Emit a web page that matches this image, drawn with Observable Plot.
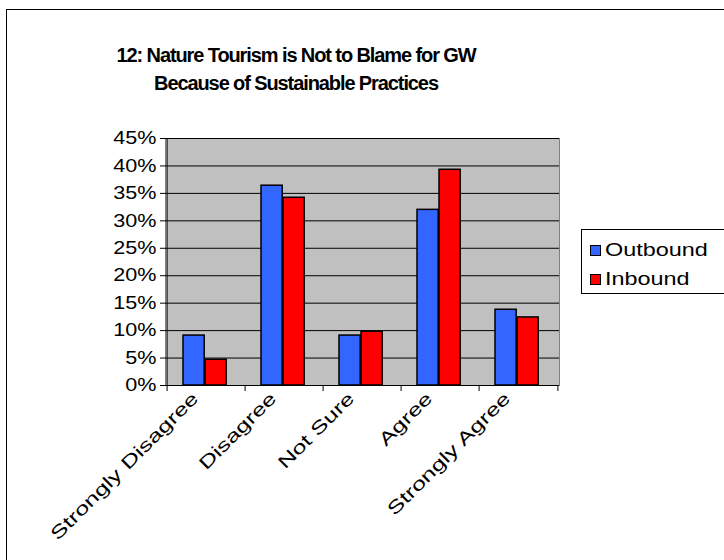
<!DOCTYPE html>
<html>
<head>
<meta charset="utf-8">
<script src="https://cdn.jsdelivr.net/npm/d3@7"></script>
<script src="https://cdn.jsdelivr.net/npm/@observablehq/plot@0.6"></script>
<style>
  html, body { margin: 0; padding: 0; background: #fff; }
  #chart { position: relative; width: 724px; height: 560px; overflow: hidden;
           font-family: Arial, "Liberation Sans", sans-serif; color: #000; }
  #chart svg { position: absolute; left: 0; top: 0; }
  #border { position: absolute; left: 6px; top: 9px; width: 900px; height: 900px;
            border-left: 1.5px solid #000; border-top: 1.5px solid #000; }
  #title { position: absolute; left: 0; top: 41px; width: 592px; text-align: center;
           font-weight: bold; font-size: 20px; line-height: 28px; letter-spacing: -1.1px; }
  #legend { position: absolute; left: 581px; top: 229px; width: 200px; height: 63px;
            border: 1px solid #000; background: #fff; }
  .item { position: absolute; left: 8px; height: 22px; display: flex; align-items: center; }
  .swatch { width: 9px; height: 9px; border: 1px solid #000; margin-right: 4px; }
  .label { display: inline-block; font-size: 18px; transform: scaleX(1.3); transform-origin: left center; }
</style>
</head>
<body>
<div id="chart">
  <div id="border"></div>
  <div id="title">12: Nature Tourism is Not to Blame for GW<br>Because of Sustainable Practices</div>
  <div id="legend"></div>
</div>
<script>
// Survey answers, share of respondents (%)
const categories = ["Strongly Disagree", "Disagree", "Not Sure", "Agree", "Strongly Agree"];
const outbound = [9.1, 36.4, 9.1, 32.0, 13.8];
const inbound = [4.7, 34.2, 9.8, 39.3, 12.4];
const seriesNames = ["Outbound", "Inbound"];
const seriesColors = ["#3366FF", "#FF0000"];
const yTicks = [0, 5, 10, 15, 20, 25, 30, 35, 40, 45];

const rows = categories.flatMap((c, i) => [
  {category: c, series: seriesNames[0], value: outbound[i]},
  {category: c, series: seriesNames[1], value: inbound[i]}
]);

const W = 724, H = 560;
const margin = {left: 165, right: 165, top: 138, bottom: 175};
const band = (W - margin.left - margin.right) / categories.length;
const gapLeft = 16, barW = 22;   // bar layout inside each category band

const plot = Plot.plot({
  width: W,
  height: H,
  marginLeft: margin.left,
  marginRight: margin.right,
  marginTop: margin.top,
  marginBottom: margin.bottom,
  style: {background: "transparent", fontFamily: "Arial, 'Liberation Sans', sans-serif", color: "#000"},
  x: {domain: categories, padding: 0, axis: null},
  y: {domain: [0, 45], axis: null},
  color: {domain: seriesNames, range: seriesColors},
  marks: [
    Plot.frame({fill: "#C0C0C0", stroke: "#808080"}),
    Plot.gridY(yTicks, {stroke: "#000", strokeOpacity: 1}),
    Plot.barY(rows.filter(d => d.series === seriesNames[0]), {
      x: "category", y: "value", fill: "series", stroke: "#000", strokeWidth: 1.5,
      insetLeft: gapLeft, insetRight: band - gapLeft - barW
    }),
    Plot.barY(rows.filter(d => d.series === seriesNames[1]), {
      x: "category", y: "value", fill: "series", stroke: "#000", strokeWidth: 1.5,
      insetLeft: gapLeft + barW, insetRight: band - gapLeft - 2 * barW
    }),
    // axis lines
    Plot.ruleY([0], {stroke: "#000"}),
    Plot.ruleX([categories[0]], {stroke: "#000", dx: -band / 2}),
    // category boundary ticks
    Plot.ruleX(categories, {x: d => d, y1: 0, y2: 0, insetBottom: -6, dx: -band / 2, stroke: "#000"}),
    Plot.ruleX([categories[categories.length - 1]], {x: d => d, y1: 0, y2: 0, insetBottom: -6, dx: band / 2, stroke: "#000"}),
    Plot.axisY(yTicks, {
      label: null, tickSize: 5, tickPadding: 4, tickFormat: d => d + "%", fontSize: 18, stroke: "#000",
      className: "yticks"
    }),
    Plot.text(categories, {
      x: d => d, text: d => d, frameAnchor: "bottom", rotate: -45, textAnchor: "end",
      dx: -7, dy: 14, fontSize: 18, fill: "#000", className: "xlabels"
    })
  ]
});

document.getElementById("chart").appendChild(plot);

// widen the label glyphs along their baselines
function stretch(selector, k) {
  plot.querySelectorAll(selector).forEach(t => {
    const len = t.getComputedTextLength();
    if (len > 0) {
      t.setAttribute("textLength", (len * k).toFixed(1));
      t.setAttribute("lengthAdjust", "spacingAndGlyphs");
    }
  });
}
stretch(".yticks text", 1.2);
stretch(".xlabels text", 1.4);

// legend
const legend = document.getElementById("legend");
seriesNames.forEach((name, i) => {
  const item = document.createElement("div");
  item.className = "item";
  item.style.top = (i === 0 ? 9 : 38) + "px";
  const sw = document.createElement("div");
  sw.className = "swatch";
  sw.style.background = seriesColors[i];
  const lab = document.createElement("span");
  lab.className = "label";
  lab.textContent = name;
  item.appendChild(sw);
  item.appendChild(lab);
  legend.appendChild(item);
});
</script>
</body>
</html>
